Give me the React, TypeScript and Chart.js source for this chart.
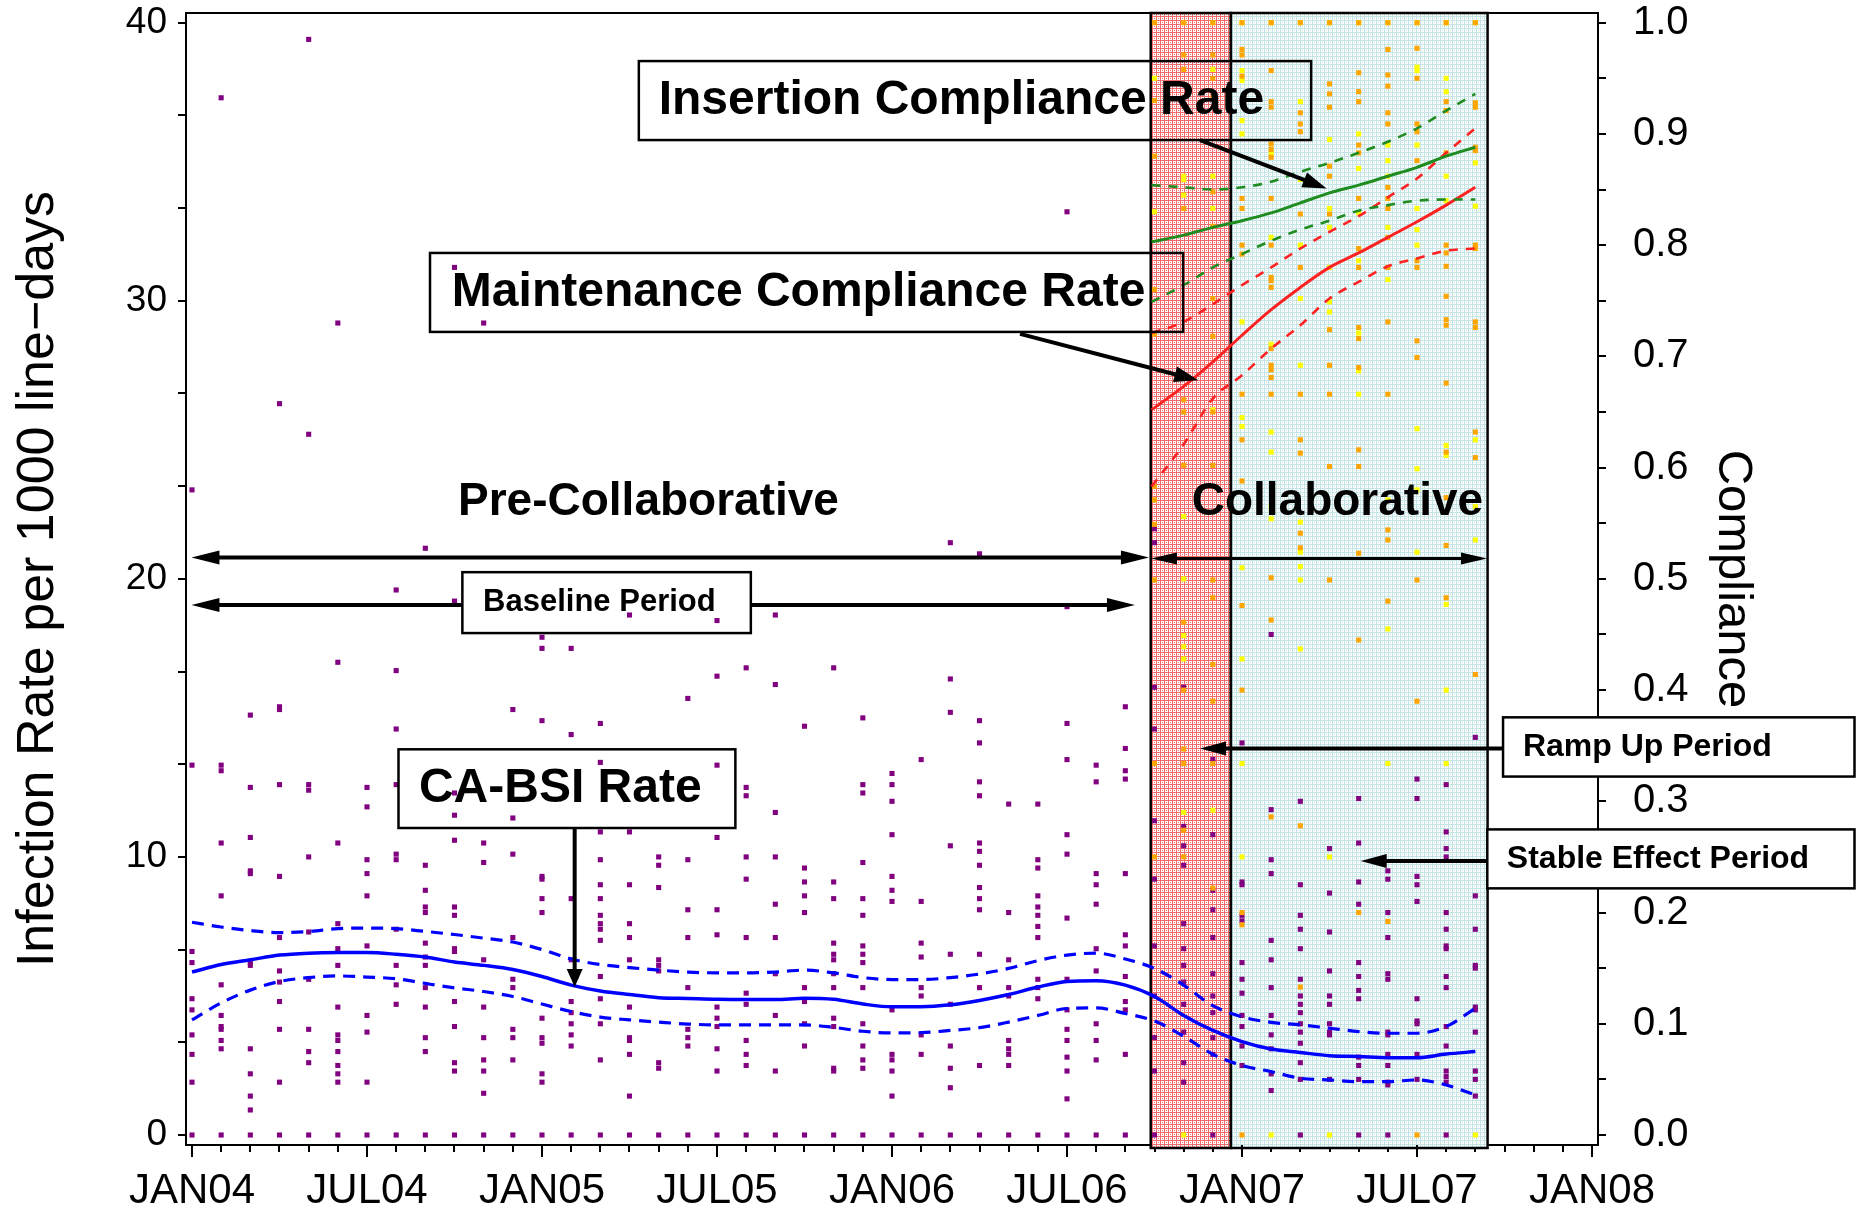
import React, { useEffect, useRef } from 'react';
import { Chart, registerables } from 'chart.js';

Chart.register(...registerables);

const FONT = "'Liberation Sans', Arial, Helvetica, sans-serif";

// ---------- axis labels ----------
const xTickLabels = ['JAN04', 'JUL04', 'JAN05', 'JUL05', 'JAN06', 'JUL06', 'JAN07', 'JUL07', 'JAN08'];
const leftTickLabels = [0, 10, 20, 30, 40];
const rightTickLabels = [0.0, 0.1, 0.2, 0.3, 0.4, 0.5, 0.6, 0.7, 0.8, 0.9, 1.0];

// ---------- smoothed CA-BSI rate (month index 0 = JAN04) ----------
const fitMonths = [0, 1, 2, 3, 4, 5, 6, 7, 8, 9, 10, 11, 12, 13, 14, 15, 16, 17, 18, 19, 20, 21, 22, 23, 24, 25, 26, 27, 28, 29, 30, 31, 32, 33, 34, 35, 36, 37, 38, 39, 40, 41, 42, 43, 44];
const bsiFit = [5.86, 6.13, 6.3, 6.47, 6.54, 6.56, 6.56, 6.5, 6.4, 6.22, 6.1, 5.95, 5.7, 5.39, 5.18, 5.05, 4.94, 4.91, 4.88, 4.87, 4.87, 4.92, 4.88, 4.71, 4.61, 4.61, 4.68, 4.84, 5.05, 5.32, 5.52, 5.55, 5.39, 4.98, 4.3, 3.76, 3.36, 3.09, 2.97, 2.85, 2.82, 2.78, 2.78, 2.91, 3.0];
const bsiUpper = [7.65, 7.48, 7.35, 7.28, 7.32, 7.42, 7.44, 7.42, 7.32, 7.21, 7.08, 6.94, 6.67, 6.33, 6.13, 6.02, 5.93, 5.86, 5.83, 5.83, 5.86, 5.93, 5.83, 5.66, 5.59, 5.59, 5.66, 5.79, 5.99, 6.27, 6.47, 6.54, 6.33, 5.99, 5.39, 4.65, 4.25, 4.05, 3.96, 3.84, 3.72, 3.66, 3.66, 3.9, 4.56];
const bsiLower = [4.14, 4.75, 5.21, 5.52, 5.66, 5.72, 5.68, 5.62, 5.45, 5.29, 5.16, 4.98, 4.71, 4.44, 4.24, 4.14, 4.06, 3.99, 3.96, 3.96, 3.96, 3.96, 3.87, 3.73, 3.67, 3.68, 3.76, 3.86, 4.06, 4.3, 4.55, 4.57, 4.37, 4.1, 3.55, 2.9, 2.5, 2.28, 2.04, 1.98, 1.92, 1.92, 1.98, 1.8, 1.44];

// ---------- smoothed compliance rates ----------
const compMonths = [32.9, 34, 35, 36, 37, 38, 39, 40, 41, 42, 43, 44];
const insFit = [0.803, 0.809, 0.816, 0.822, 0.829, 0.838, 0.847, 0.854, 0.862, 0.870, 0.880, 0.888];
const insUpper = [0.854, 0.852, 0.850, 0.852, 0.857, 0.866, 0.874, 0.883, 0.893, 0.905, 0.921, 0.936];
const insLower = [0.749, 0.764, 0.780, 0.792, 0.804, 0.814, 0.822, 0.831, 0.836, 0.840, 0.841, 0.841];
const mntFit = [0.652, 0.673, 0.695, 0.719, 0.742, 0.762, 0.780, 0.793, 0.807, 0.821, 0.836, 0.852];
const mntUpper = [0.721, 0.731, 0.747, 0.764, 0.780, 0.797, 0.812, 0.826, 0.843, 0.860, 0.883, 0.905];
const mntLower = [0.583, 0.621, 0.662, 0.683, 0.707, 0.728, 0.752, 0.767, 0.781, 0.788, 0.795, 0.797];

// ---------- unit-level monthly CA-BSI rates (index = month) ----------
const bsiRates = [
  [23.2, 13.3, 6.6, 6.2, 4.9, 4.5, 3.6, 2.9, 1.9, 0],
  [37.3, 13.3, 13.1, 10.5, 8.6, 5.4, 4.3, 3.9, 3.8, 3.4, 3.1, 0],
  [15.1, 12.5, 10.7, 9.5, 9.4, 6.2, 6.1, 3.1, 2.2, 1.4, 0.9, 0],
  [26.3, 15.4, 15.3, 12.6, 9.3, 7.1, 5.9, 5.5, 4.8, 3.8, 1.9, 0],
  [39.4, 25.2, 12.6, 12.4, 10.0, 7.3, 5.6, 3.8, 3.0, 2.6, 0],
  [29.2, 17.0, 10.5, 7.6, 6.7, 6.1, 4.6, 3.6, 3.4, 3.0, 2.5, 2.2, 1.9, 0],
  [12.5, 11.8, 9.9, 9.4, 8.6, 6.8, 4.3, 3.7, 1.9, 0],
  [19.6, 16.7, 14.6, 12.6, 10.1, 9.9, 7.4, 6.1, 5.4, 4.7, 0],
  [21.1, 9.7, 8.8, 8.2, 8.0, 6.9, 6.4, 6.1, 5.3, 4.6, 3.5, 3.0, 0],
  [31.2, 19.2, 12.3, 11.5, 10.6, 8.2, 7.9, 6.7, 6.6, 4.8, 3.9, 2.6, 2.3, 0],
  [29.2, 10.5, 9.8, 6.3, 4.6, 3.5, 2.7, 2.3, 1.5, 0],
  [15.3, 11.4, 10.1, 7.1, 5.6, 5.3, 3.8, 3.5, 2.7, 0],
  [17.9, 17.5, 14.9, 9.3, 9.2, 8.5, 8.0, 4.2, 3.5, 3.3, 2.2, 1.9, 0],
  [17.5, 14.4, 8.5, 6.3, 4.8, 4.4, 4.0, 3.6, 3.2, 0],
  [14.8, 13.4, 10.9, 9.9, 9.0, 8.5, 7.9, 7.6, 7.4, 7.0, 5.7, 4.9, 4.0, 2.7, 0],
  [18.7, 10.9, 9.0, 7.6, 7.1, 6.3, 4.6, 3.5, 3.4, 2.9, 1.4, 0],
  [10.0, 9.7, 8.9, 6.3, 6.1, 5.9, 2.6, 2.4, 0],
  [15.7, 9.9, 8.1, 7.1, 5.3, 3.8, 3.5, 3.2, 0],
  [18.5, 16.5, 13.3, 10.7, 8.1, 7.2, 4.6, 4.2, 3.9, 3.1, 2.3, 0],
  [16.8, 12.5, 12.2, 10.0, 9.2, 7.1, 5.1, 4.7, 3.4, 2.9, 2.5, 0],
  [18.7, 16.2, 11.6, 10.0, 8.3, 7.1, 5.8, 4.3, 2.3, 0],
  [14.7, 9.6, 9.1, 8.6, 8.0, 5.3, 4.8, 4.0, 3.2, 0],
  [16.8, 9.1, 8.5, 6.9, 6.5, 6.3, 5.8, 5.3, 4.2, 3.9, 2.4, 2.3, 0],
  [15.0, 12.6, 12.3, 9.8, 8.5, 7.9, 6.8, 6.5, 6.2, 5.3, 4.0, 3.2, 2.7, 2.4, 0],
  [13.0, 12.6, 12.0, 10.8, 9.3, 8.8, 8.4, 4.5, 2.9, 2.7, 2.3, 1.4, 0],
  [13.5, 8.4, 6.9, 6.4, 5.3, 5.0, 3.6, 2.9, 0],
  [21.3, 16.4, 15.2, 10.4, 6.5, 4.7, 3.2, 2.4, 1.7, 0],
  [20.9, 14.9, 14.1, 12.7, 12.2, 10.5, 10.2, 9.7, 8.9, 8.5, 8.1, 6.5, 5.3, 2.5, 0],
  [11.9, 8.0, 6.3, 5.3, 5.0, 3.4, 3.1, 2.9, 2.5, 0],
  [11.9, 9.9, 9.6, 8.6, 8.2, 7.9, 7.5, 7.1, 5.6, 5.3, 4.9, 0],
  [33.2, 19.0, 14.8, 13.5, 10.8, 10.1, 7.8, 5.6, 4.5, 3.8, 3.4, 2.8, 2.3, 1.3, 0],
  [13.3, 12.7, 9.4, 9.0, 8.3, 6.7, 5.9, 4.0, 3.4, 2.7, 0],
  [15.4, 13.9, 13.1, 12.8, 9.4, 7.2, 6.8, 5.7, 4.8, 4.5, 2.9, 0],
  [21.8, 21.3, 16.1, 14.6, 11.3, 9.2, 6.8, 5.0, 3.5, 2.3, 0],
  [16.1, 11.1, 10.4, 9.7, 7.6, 6.7, 6.1, 5.5, 4.7, 3.7, 2.6, 1.9],
  [13.5, 10.8, 8.8, 8.1, 7.1, 5.8, 5.0, 4.4, 3.5, 2.9, 0],
  [14.1, 9.1, 9.0, 7.9, 7.7, 6.2, 5.6, 5.1, 4.3, 3.9, 3.2, 2.5],
  [18.0, 11.7, 9.9, 9.4, 7.0, 6.3, 5.3, 4.3, 3.6, 3.1, 2.2, 1.6],
  [12.0, 9.0, 7.9, 7.4, 6.7, 5.6, 5.0, 4.7, 4.4, 4.0, 3.7, 3.3, 2.6, 2.0, 0],
  [10.3, 8.7, 7.3, 5.9, 5.0, 4.7, 4.0, 3.7, 3.6, 2.0],
  [12.1, 10.5, 9.1, 8.3, 6.2, 5.7, 5.2, 4.9, 2.8, 2.5, 2.0, 0],
  [9.5, 9.2, 8.0, 7.1, 5.8, 5.6, 3.7, 3.6, 2.9, 2.5, 1.9, 1.8, 0],
  [12.8, 12.1, 9.3, 9.0, 8.4, 4.9, 4.1, 4.0, 2.9, 2.0],
  [12.6, 10.9, 10.3, 10.0, 8.0, 7.4, 6.8, 6.7, 5.7, 5.3, 3.9, 3.2, 2.3, 2.1, 1.9, 0],
  [14.3, 8.6, 7.4, 6.1, 6.0, 4.6, 4.5, 3.7, 2.3, 2.0, 1.4],
];

// ---------- unit-level monthly compliance (collaborative months) ----------
const compPointMonths = [33, 34, 35, 36, 37, 38, 39, 40, 41, 42, 43, 44];
const insertionRates = [
  [1.0, 0.95, 0.83],
  [1.0, 0.862, 0.859, 0.845, 0.556, 0.5, 0.449, 0.439, 0.428, 0.29, 0],
  [1.0, 0.958, 0.862, 0.833, 0.652, 0.292],
  [1.0, 0.957, 0.948, 0.912, 0.9, 0.731, 0.645, 0.637, 0.51, 0.428, 0.334, 0.25],
  [1.0, 0.883, 0.807, 0.711, 0.632, 0.614, 0.565, 0.554, 0],
  [1.0, 0.929, 0.859, 0.8, 0.752, 0.692, 0.551, 0.524, 0.511, 0.499, 0.437],
  [1.0, 0.895, 0.833, 0.816, 0.78, 0.749, 0.74, 0.25, 0],
  [1.0, 0.9, 0.869, 0.829, 0.786, 0.721, 0.687, 0.666],
  [1.0, 0.89, 0.876, 0.862, 0.816, 0.769, 0.571, 0.455, 0.334],
  [1.0, 0.96, 0.957, 0.89, 0.833, 0.814, 0.8, 0.635, 0.599, 0.58, 0.524],
  [1.0, 0.95, 0.938, 0.862, 0.84, 0.62, 0.611, 0.477, 0.4, 0.334],
  [1.0, 0.874, 0.835, 0.625, 0.565, 0.535, 0],
];
const maintenanceRates = [
  [1.0, 0.93, 0.88, 0.76, 0.72, 0.583, 0.571, 0.549, 0.499, 0.334, 0.25],
  [1.0, 0.971, 0.958, 0.833, 0.661, 0.65, 0.602, 0.461, 0.4, 0.347, 0.334, 0.274, 0.25],
  [1.0, 0.971, 0.95, 0.933, 0.848, 0.817, 0.752, 0.718, 0.65, 0.602, 0.499, 0.483, 0.423, 0.39, 0.334, 0.222],
  [1.0, 0.976, 0.971, 0.952, 0.842, 0.833, 0.8, 0.792, 0.666, 0.625, 0.588, 0.476, 0.4, 0.2, 0.189, 0],
  [1.0, 0.957, 0.929, 0.924, 0.891, 0.886, 0.879, 0.842, 0.8, 0.771, 0.768, 0.762, 0.707, 0.692, 0.688, 0.681, 0.666, 0.501, 0.463, 0.286],
  [1.0, 0.919, 0.909, 0.902, 0.828, 0.78, 0.666, 0.625, 0.613, 0.541, 0.528, 0.278, 0.133],
  [1.0, 0.945, 0.936, 0.924, 0.871, 0.862, 0.828, 0.724, 0.692, 0.666, 0.601, 0.499],
  [1.0, 0.955, 0.938, 0.929, 0.89, 0.883, 0.842, 0.797, 0.78, 0.726, 0.716, 0.69, 0.616, 0.601, 0.523, 0.445, 0.2],
  [1.0, 0.976, 0.953, 0.943, 0.919, 0.909, 0.852, 0.842, 0.833, 0.807, 0.78, 0.731, 0.666, 0.544, 0.535, 0.48, 0.192],
  [1.0, 0.977, 0.95, 0.909, 0.902, 0.876, 0.786, 0.78, 0.714, 0.699, 0.499, 0.39, 0],
  [1.0, 0.929, 0.921, 0.883, 0.8, 0.793, 0.781, 0.754, 0.733, 0.728, 0.676, 0.614, 0.573, 0.53, 0.483],
  [1.0, 0.928, 0.924, 0.888, 0.885, 0.8, 0.797, 0.731, 0.726, 0.632, 0.609, 0.414],
];

// ---------- study periods (months) ----------
const periods = [
  { name: 'Ramp Up', start: 32.87, end: 35.62, line: '#F26A6A' },
  { name: 'Stable Effect', start: 35.62, end: 44.42, line: '#C2E4E4' },
];

// ---------- annotations (data units: month, infection rate) ----------
const boxLabels = [
  { text: 'Insertion Compliance Rate', x0: 15.32, x1: 38.37, yTop: 38.62, yBot: 35.78, tx: 16.0, size: 48, fill: false },
  { text: 'Maintenance Compliance Rate', x0: 8.16, x1: 33.98, yTop: 31.72, yBot: 28.88, tx: 8.91, size: 48, fill: false },
  { text: 'CA-BSI Rate', x0: 7.08, x1: 18.63, yTop: 13.87, yBot: 11.04, tx: 7.78, size: 48, fill: false },
  { text: 'Baseline Period', x0: 9.27, x1: 19.16, yTop: 20.24, yBot: 18.05, tx: 9.98, size: 31, fill: false },
  { text: 'Ramp Up Period', x0: 44.95, x1: 57.0, yTop: 15.02, yBot: 12.89, tx: 45.63, size: 32, fill: true },
  { text: 'Stable Effect Period', x0: 44.41, x1: 57.0, yTop: 10.99, yBot: 8.87, tx: 45.08, size: 32, fill: true },
];
const freeLabels = [
  { text: 'Pre-Collaborative', x: 15.65, y: 22.3, size: 46 },
  { text: 'Collaborative', x: 39.27, y: 22.31, size: 46 },
];
const arrows = [
  { from: [34.56, 35.78], to: [38.9, 34.04], both: false, lw: 4, len: 24, half: 8 },
  { from: [28.39, 28.81], to: [34.5, 27.14], both: false, lw: 4, len: 24, half: 8 },
  { from: [13.12, 11.03], to: [13.12, 5.32], both: false, lw: 4, len: 18, half: 8 },
  { from: [44.95, 13.9], to: [34.56, 13.9], both: false, lw: 4, len: 26, half: 7 },
  { from: [44.41, 9.85], to: [40.07, 9.85], both: false, lw: 4, len: 26, half: 7 },
  { from: [-0.02, 20.77], to: [32.81, 20.77], both: true, lw: 4, len: 28, half: 7 },
  { from: [32.88, 20.73], to: [44.4, 20.73], both: true, lw: 3, len: 26, half: 6 },
  { from: [9.27, 19.06], to: [-0.02, 19.06], both: false, lw: 4, len: 28, half: 7 },
  { from: [19.16, 19.06], to: [32.33, 19.06], both: false, lw: 4, len: 28, half: 7 },
];

const xTickValues = Array.from({ length: 49 }, (_, i) => i);
const leftTickValues = Array.from({ length: 25 }, (_, i) => (i * 10) / 6);
const rightTickValues = Array.from({ length: 21 }, (_, i) => i * 0.05);

function makePattern(ctx: CanvasRenderingContext2D, line: string) {
  const c = document.createElement('canvas');
  c.width = 4;
  c.height = 4;
  const g = c.getContext('2d') as CanvasRenderingContext2D;
  g.fillStyle = '#ffffff';
  g.fillRect(0, 0, 4, 4);
  g.fillStyle = line;
  g.fillRect(0, 0, 4, 1);
  g.fillRect(0, 0, 1, 4);
  g.fillRect(2, 2, 1, 1);
  return ctx.createPattern(c, 'repeat') as CanvasPattern;
}

function head(ctx: CanvasRenderingContext2D, x: number, y: number, a: number, len: number, half: number) {
  const c = Math.cos(a), s = Math.sin(a);
  ctx.beginPath();
  ctx.moveTo(x, y);
  ctx.lineTo(x - len * c + half * s, y - len * s - half * c);
  ctx.lineTo(x - len * c - half * s, y - len * s + half * c);
  ctx.closePath();
  ctx.fill();
}

const overlayPlugin = {
  id: 'overlay',
  beforeDatasetsDraw(chart: any) {
    const { ctx, chartArea } = chart;
    const xs = chart.scales.x;
    ctx.save();
    for (const p of periods) {
      const x0 = xs.getPixelForValue(p.start);
      const x1 = xs.getPixelForValue(p.end);
      const top = chartArea.top;
      const bottom = chartArea.bottom + 3;
      ctx.fillStyle = makePattern(ctx, p.line);
      ctx.fillRect(x0, top, x1 - x0, bottom - top);
      ctx.strokeStyle = '#000';
      ctx.lineWidth = 2.5;
      ctx.strokeRect(x0, top, x1 - x0, bottom - top);
    }
    ctx.restore();
  },
  afterDraw(chart: any) {
    const { ctx, chartArea } = chart;
    const xs = chart.scales.x;
    const ys = chart.scales.y;
    const X = (v: number) => xs.getPixelForValue(v);
    const Y = (v: number) => ys.getPixelForValue(v);
    ctx.save();
    ctx.strokeStyle = '#000';
    ctx.lineWidth = 2;
    ctx.beginPath();
    ctx.moveTo(chartArea.left, chartArea.top);
    ctx.lineTo(chartArea.right, chartArea.top);
    ctx.stroke();
    for (const t of xs.ticks) {
      if (t.value % 6 === 0) {
        const px = X(t.value);
        ctx.beginPath();
        ctx.moveTo(px, chartArea.bottom);
        ctx.lineTo(px, chartArea.bottom + 12);
        ctx.stroke();
      }
    }
    for (const b of boxLabels) {
      const x0 = X(b.x0), x1 = X(b.x1), y0 = Y(b.yTop), y1 = Y(b.yBot);
      if (b.fill) {
        ctx.fillStyle = '#fff';
        ctx.fillRect(x0, y0, x1 - x0, y1 - y0);
      }
      ctx.lineWidth = 2.5;
      ctx.strokeStyle = '#000';
      ctx.strokeRect(x0, y0, x1 - x0, y1 - y0);
      ctx.fillStyle = '#000';
      ctx.font = `bold ${b.size}px ${FONT}`;
      ctx.textAlign = 'left';
      ctx.textBaseline = 'middle';
      ctx.fillText(b.text, X(b.tx), (y0 + y1) / 2);
    }
    for (const l of freeLabels) {
      ctx.fillStyle = '#000';
      ctx.font = `bold ${l.size}px ${FONT}`;
      ctx.textAlign = 'center';
      ctx.textBaseline = 'alphabetic';
      ctx.fillText(l.text, X(l.x), Y(l.y));
    }
    ctx.fillStyle = '#000';
    ctx.strokeStyle = '#000';
    for (const a of arrows) {
      const x0 = X(a.from[0]), y0 = Y(a.from[1]);
      const x1 = X(a.to[0]), y1 = Y(a.to[1]);
      const ang = Math.atan2(y1 - y0, x1 - x0);
      const c = Math.cos(ang), s = Math.sin(ang);
      const back = a.len * 0.8;
      ctx.lineWidth = a.lw;
      ctx.beginPath();
      ctx.moveTo(a.both ? x0 + c * back : x0, a.both ? y0 + s * back : y0);
      ctx.lineTo(x1 - c * back, y1 - s * back);
      ctx.stroke();
      head(ctx, x1, y1, ang, a.len, a.half);
      if (a.both) head(ctx, x0, y0, ang + Math.PI, a.len, a.half);
    }
    ctx.restore();
  },
};

const lineDs = (label: string, xsArr: number[], ysArr: number[], color: string, width: number, dash: number[], axis: string) => ({
  label,
  data: xsArr.map((x, i) => ({ x, y: ysArr[i] })),
  showLine: true,
  borderColor: color,
  backgroundColor: color,
  borderWidth: width,
  borderDash: dash,
  pointRadius: 0,
  fill: false,
  cubicInterpolationMode: 'monotone',
  yAxisID: axis,
  order: 1,
});

const pointDs = (label: string, pts: { x: number; y: number }[], color: string, axis: string, order: number) => ({
  label,
  data: pts,
  showLine: false,
  pointStyle: 'rect',
  pointRadius: 3.6,
  pointBorderWidth: 0,
  pointBackgroundColor: color,
  backgroundColor: color,
  borderColor: color,
  yAxisID: axis,
  order,
});

export default function App() {
  const ref = useRef<HTMLCanvasElement>(null);
  useEffect(() => {
    const canvas = ref.current as HTMLCanvasElement;
    const purplePts = bsiRates.flatMap((vals, m) => vals.map((v) => ({ x: fitMonths[m], y: v })));
    const insPts = insertionRates.flatMap((vals, i) => vals.map((v) => ({ x: compPointMonths[i], y: v })));
    const mntPts = maintenanceRates.flatMap((vals, i) => vals.map((v) => ({ x: compPointMonths[i], y: v })));

    const axisTickFont = (size: number) => ({ family: FONT, size });
    const chart = new Chart(canvas, {
      type: 'scatter',
      data: {
        datasets: [
          lineDs('CA-BSI fit', fitMonths, bsiFit, '#0000FF', 3.5, [], 'y'),
          lineDs('CA-BSI upper', fitMonths, bsiUpper, '#0000FF', 3.2, [12, 8], 'y'),
          lineDs('CA-BSI lower', fitMonths, bsiLower, '#0000FF', 3.2, [12, 8], 'y'),
          lineDs('Insertion fit', compMonths, insFit, '#1E8C1E', 3, [], 'y1'),
          lineDs('Insertion upper', compMonths, insUpper, '#1E8C1E', 2.6, [9, 8], 'y1'),
          lineDs('Insertion lower', compMonths, insLower, '#1E8C1E', 2.6, [9, 8], 'y1'),
          lineDs('Maintenance fit', compMonths, mntFit, '#FF2222', 3, [], 'y1'),
          lineDs('Maintenance upper', compMonths, mntUpper, '#FF2222', 2.6, [9, 8], 'y1'),
          lineDs('Maintenance lower', compMonths, mntLower, '#FF2222', 2.6, [9, 8], 'y1'),
          pointDs('Maintenance compliance', mntPts, '#FFA500', 'y1', 5),
          pointDs('Insertion compliance', insPts, '#FFFF00', 'y1', 6),
          pointDs('CA-BSI rate', purplePts, '#800080', 'y', 7),
        ] as any,
      },
      options: {
        responsive: false,
        devicePixelRatio: 1,
        animation: false,
        events: [],
        layout: { autoPadding: false, padding: { top: 13, left: 0, right: 0, bottom: 0 } },
        plugins: { legend: { display: false }, tooltip: { enabled: false } },
        scales: {
          x: {
            type: 'linear',
            position: 'bottom',
            min: -0.2057,
            max: 48.2057,
            afterBuildTicks: (s: any) => {
              s.ticks = xTickValues.map((v) => ({ value: v }));
            },
            afterFit: (s: any) => {
              s.height = 65;
              s.paddingLeft = 0;
              s.paddingRight = 0;
            },
            ticks: {
              autoSkip: false,
              maxRotation: 0,
              minRotation: 0,
              padding: 14,
              color: '#000',
              font: axisTickFont(42),
              callback: (v: any) => {
                const n = Math.round(Number(v));
                return n % 6 === 0 ? xTickLabels[n / 6] : '';
              },
            },
            grid: { drawOnChartArea: false, drawTicks: true, tickLength: 7, lineWidth: 2, color: '#000' },
            border: { display: true, color: '#000', width: 2 },
          },
          y: {
            type: 'linear',
            position: 'left',
            min: -0.3596,
            max: 40.349,
            afterBuildTicks: (s: any) => {
              s.ticks = leftTickValues.map((v) => ({ value: v }));
            },
            afterFit: (s: any) => {
              s.width = 186;
              s.paddingTop = 0;
              s.paddingBottom = 0;
            },
            ticks: {
              padding: 11,
              color: '#000',
              font: axisTickFont(37),
              callback: (v: any) => {
                const k = leftTickLabels.find((t) => Math.abs(t - Number(v)) < 1e-6);
                return k === undefined ? '' : String(k);
              },
            },
            grid: { drawOnChartArea: false, drawTicks: true, tickLength: 8, lineWidth: 2, color: '#000' },
            border: { display: true, color: '#000', width: 2 },
            title: {
              display: true,
              text: 'Infection Rate per 1000 line\u2212days',
              color: '#000',
              font: { family: FONT, size: 52 },
              padding: { top: 7, bottom: 0 },
            },
          },
          y1: {
            type: 'linear',
            position: 'right',
            min: -0.00899,
            max: 1.00872,
            afterBuildTicks: (s: any) => {
              s.ticks = rightTickValues.map((v) => ({ value: v }));
            },
            afterFit: (s: any) => {
              s.width = 266;
              s.paddingTop = 0;
              s.paddingBottom = 0;
            },
            ticks: {
              padding: 27,
              color: '#000',
              font: axisTickFont(40),
              callback: (v: any) => {
                const k = rightTickLabels.find((t) => Math.abs(t - Number(v)) < 1e-6);
                return k === undefined ? '' : k.toFixed(1);
              },
            },
            grid: { drawOnChartArea: false, drawTicks: true, tickLength: 8, lineWidth: 2, color: '#000' },
            border: { display: true, color: '#000', width: 2 },
            title: {
              display: true,
              text: 'Compliance',
              color: '#000',
              font: { family: FONT, size: 49 },
              padding: { top: 102, bottom: 0 },
            },
          },
        },
      } as any,
      plugins: [overlayPlugin as any],
    });
    return () => chart.destroy();
  }, []);

  return (
    <div style={{ position: 'fixed', left: 0, top: 0, width: 1864, height: 1210, background: '#fff' }}>
      <canvas ref={ref} width={1864} height={1210} style={{ display: 'block', width: 1864, height: 1210 }} />
    </div>
  );
}
